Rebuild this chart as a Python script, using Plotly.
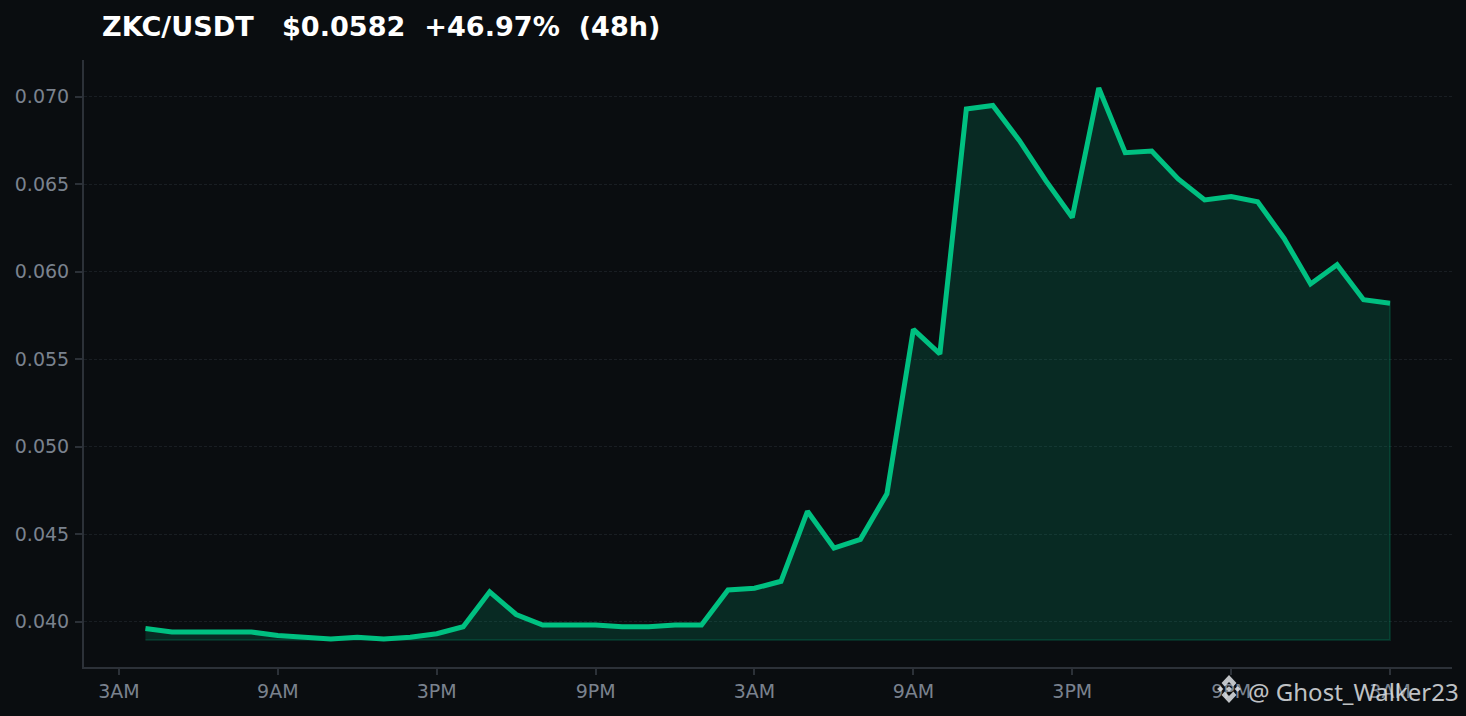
# ZKC/USDT 48h price chart
import plotly.graph_objects as go

# hours since 3AM on the first day
hours = [1, 2, 3, 4, 5, 6, 7, 8, 9, 10, 11, 12, 13, 14, 15, 16,
         17, 18, 19, 20, 21, 22, 23, 24, 25, 26, 27, 28, 29, 30, 31, 32,
         33, 34, 35, 36, 37, 38, 39, 40, 41, 42, 43, 44, 45, 46, 47, 48]
price = [0.0396, 0.0394, 0.0394, 0.0394, 0.0394, 0.0392, 0.0391, 0.0390,
         0.0391, 0.0390, 0.0391, 0.0393, 0.0397, 0.0417, 0.0404, 0.0398,
         0.0398, 0.0398, 0.0397, 0.0397, 0.0398, 0.0398, 0.0418, 0.0419,
         0.0423, 0.0463, 0.0442, 0.0447, 0.0473, 0.0567, 0.0553, 0.0693,
         0.0695, 0.0675, 0.0652, 0.0631, 0.0705, 0.0668, 0.0669, 0.0653,
         0.0641, 0.0643, 0.0640, 0.0619, 0.0593, 0.0604, 0.0584, 0.0582]
fill_base = 0.03894

x_ticks = [0, 6, 12, 18, 24, 30, 36, 42, 48]
x_labels = ["3AM", "9AM", "3PM", "9PM", "3AM", "9AM", "3PM", "9PM", "3AM"]
y_ticks = [0.040, 0.045, 0.050, 0.055, 0.060, 0.065, 0.070]

BG = "#0a0d10"
GREEN = "#00c081"
AXIS = "#2c3138"
MUTED = "#7a828e"
MARK = "rgba(225,228,231,0.85)"

W, H = 1466, 716
L, R, T, B = 84, 14, 60, 49


# page pixels to paper fractions, for the watermark only
def px(x):
    return (x - L) / (W - L - R)


def py(y):
    return (H - B - y) / (H - T - B)


def logo_path(points, cx=1229, cy=689, sx=12, sy=14):
    parts = [f"{px(cx + a * sx):.5f},{py(cy - b * sy):.5f}" for a, b in points]
    return "M" + "L".join(parts) + "Z"


logo = [
    [(0, 1), (0.62, 0.42), (0.36, 0.17), (0, 0.5), (-0.36, 0.17), (-0.62, 0.42)],
    [(0, -1), (0.62, -0.42), (0.36, -0.17), (0, -0.5), (-0.36, -0.17), (-0.62, -0.42)],
    [(0, 0.2), (0.26, 0), (0, -0.2), (-0.26, 0)],
    [(0.72, 0.2), (1, 0), (0.72, -0.2), (0.46, 0)],
    [(-0.72, 0.2), (-1, 0), (-0.72, -0.2), (-0.46, 0)],
]

fig = go.Figure()

# area under the line, closed down to the base; see-through so the grid shows
fig.add_trace(go.Scatter(
    x=hours + [hours[-1], hours[0]],
    y=price + [fill_base, fill_base],
    mode="lines",
    fill="toself",
    fillcolor="rgba(0,192,129,0.17)",
    line=dict(color="rgba(0,192,129,0.17)", width=2),
    hoverinfo="skip",
    showlegend=False,
))
fig.add_trace(go.Scatter(
    x=hours,
    y=price,
    mode="lines",
    line=dict(color=GREEN, width=5),
    showlegend=False,
))

fig.update_layout(
    width=W,
    height=H,
    margin=dict(l=L, r=R, t=T, b=B),
    paper_bgcolor=BG,
    plot_bgcolor=BG,
    font=dict(family="DejaVu Sans", color=MUTED, size=19),
    title=dict(
        text="<b>ZKC/USDT   $0.0582  +46.97%  (48h)</b>",
        x=102 / W,
        xanchor="left",
        y=1 - 27 / H,
        yanchor="middle",
        font=dict(family="DejaVu Sans", size=27.1, color="#ffffff"),
    ),
    xaxis=dict(
        range=[-1.32, 50.34],
        tickvals=x_ticks,
        ticktext=x_labels,
        showgrid=False,
        zeroline=False,
        showline=True,
        linecolor=AXIS,
        linewidth=2,
        ticks="outside",
        ticklen=6,
        tickwidth=2,
        tickcolor=AXIS,
    ),
    yaxis=dict(
        range=[0.0374, 0.0721],
        tickvals=y_ticks,
        tickformat=".3f",
        ticklabelstandoff=2,
        showgrid=True,
        gridcolor="#191e23",
        griddash="3px,2px",
        gridwidth=1,
        zeroline=False,
        showline=True,
        linecolor=AXIS,
        linewidth=2,
        ticks="outside",
        ticklen=7,
        tickwidth=2,
        tickcolor=AXIS,
    ),
    annotations=[dict(
        text="@ Ghost_Walker23",
        xref="paper",
        yref="paper",
        x=px(1461),
        y=py(691),
        xanchor="right",
        yanchor="middle",
        showarrow=False,
        font=dict(family="Noto Sans", size=24, color=MARK),
    )],
    shapes=[dict(
        type="path",
        path=logo_path(points),
        xref="paper",
        yref="paper",
        fillcolor=MARK,
        line=dict(width=0),
    ) for points in logo],
)

fig.write_html(
    "out.html",
    config={"displayModeBar": False},
    post_script="document.body.style.margin='0';document.body.style.overflow='hidden';",
)
